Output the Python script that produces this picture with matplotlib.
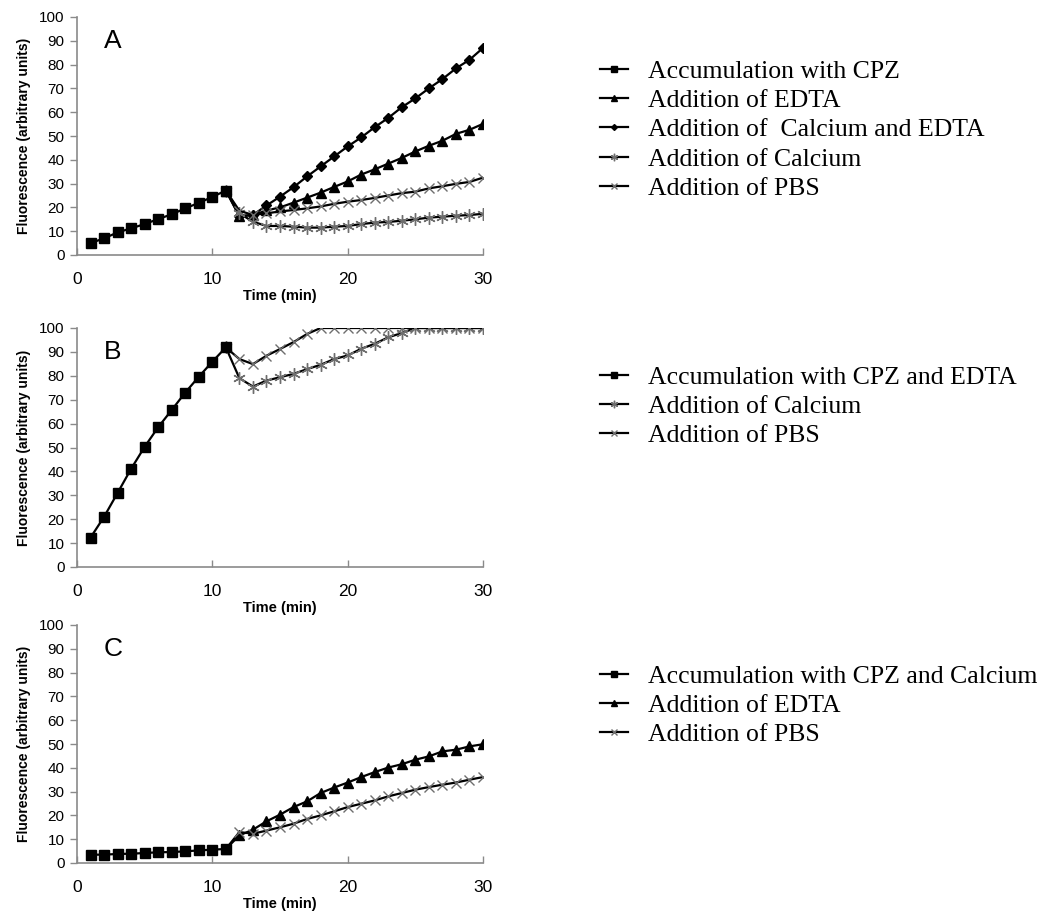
import numpy as np
import matplotlib
matplotlib.use("Agg")
import matplotlib.pyplot as plt

# ---------------- data ----------------
acc_x = list(range(1, 12))
add_x = list(range(11, 31))

# Panel A
a_acc = [5, 7, 9.5, 11.2, 13, 15.1, 17.1, 19.6, 21.9, 24.4, 27.1]
a_edta = [27.1, 16.2, 16.8, 18.7, 20, 22, 24.1, 26.2, 28.6, 30.9, 33.8, 36, 38.4,
          40.8, 43.5, 45.9, 48, 50.9, 52.6, 55.1]
a_ca_edta = [27.1, 16.4, 16.8, 20.8, 24.5, 28.5, 33, 37.2, 41.4, 45.6, 49.4, 53.7,
             57.6, 62.1, 65.8, 70, 73.9, 78.4, 82, 87]
a_ca = [27.1, 17.5, 14, 12.2, 12.2, 11.9, 11.5, 11.5, 11.9, 12.2, 13, 13.6, 13.9,
        14.4, 15, 15.7, 16.1, 16.5, 16.8, 17.3]
a_pbs = [27.1, 18.6, 16.8, 17.5, 18.3, 18.9, 19.6, 20.4, 21.5, 22.4, 23.1, 24, 25,
         26, 26.6, 28, 28.9, 29.9, 30.7, 32.5]

# Panel B
b_acc = [12.3, 21, 31, 41.1, 50.3, 58.5, 65.7, 73, 79.6, 85.9, 91.9]
b_ca = [91.9, 79, 75.5, 78, 79.4, 80.8, 82.8, 84.6, 87, 88.5, 91.3, 93.4, 96.1,
        97.9, 100, 100, 100, 100, 100, 100]
b_pbs = [91.9, 87, 84.9, 88.4, 91.2, 94.1, 97.5, 100, 100, 100, 100, 100, 100,
         100, 100, 100, 100, 100, 100, 100]

# Panel C
c_acc = [3.5, 3.5, 3.8, 3.9, 4.2, 4.5, 4.6, 4.9, 5.3, 5.6, 5.9]
c_edta = [5.9, 11.6, 14, 17.5, 20.3, 23.5, 25.9, 29.4, 31.7, 33.8, 36.1, 38.2,
          40.1, 41.5, 43.4, 44.8, 46.9, 47.6, 49, 49.9]
c_pbs = [5.9, 13, 12.3, 13.6, 15, 16.5, 18.5, 20, 21.7, 23.5, 24.9, 26.3, 28,
         29.4, 30.8, 31.9, 32.9, 33.8, 35, 36.1]

yticks = list(range(0, 101, 10))
xticks = [0, 10, 20, 30]

# ---------------- styles ----------------
GRAY = "#6e6e6e"
SPINE = "#8a8a8a"
ASTER = (6, 2, 0)
styles = {
    "acc": dict(marker="s", ms=7, mfc="black", mec="black"),
    "edta": dict(marker="^", ms=7, mfc="black", mec="black"),
    "caedta": dict(marker="D", ms=5, mfc="black", mec="black"),
    "ca": dict(marker=ASTER, ms=9, mfc=GRAY, mec=GRAY, mew=1.0),
    "pbs": dict(marker="x", ms=7, mfc=GRAY, mec=GRAY, mew=1.0),
}

fig = plt.figure(figsize=(10.4, 9.14), dpi=100)
W, H = 1040, 914

def make_ax(top, bottom):
    left, right = 77, 483
    return fig.add_axes([left / W, 1 - bottom / H, (right - left) / W, (bottom - top) / H])

panels = [
    ("A", make_ax(17, 255),
     [("acc", acc_x, a_acc, "Accumulation with CPZ"),
      ("edta", add_x, a_edta, "Addition of EDTA"),
      ("caedta", add_x, a_ca_edta, "Addition of  Calcium and EDTA"),
      ("ca", add_x, a_ca, "Addition of Calcium"),
      ("pbs", add_x, a_pbs, "Addition of PBS")], 67),
    ("B", make_ax(328, 567),
     [("acc", acc_x, b_acc, "Accumulation with CPZ and EDTA"),
      ("ca", add_x, b_ca, "Addition of Calcium"),
      ("pbs", add_x, b_pbs, "Addition of PBS")], 373),
    ("C", make_ax(625, 863),
     [("acc", acc_x, c_acc, "Accumulation with CPZ and Calcium"),
      ("edta", add_x, c_edta, "Addition of EDTA"),
      ("pbs", add_x, c_pbs, "Addition of PBS")], 672),
]

for letter, ax, series, leg_y in panels:
    handles = {}
    for key, xs, ys, lab in series[1:] + series[:1]:
        st = styles[key]
        ln, = ax.plot(xs, ys, color="black", lw=1.6, linestyle="-",
                      marker=st["marker"], markersize=st["ms"],
                      markerfacecolor=st["mfc"], markeredgecolor=st["mec"],
                      markeredgewidth=st.get("mew", 1.0),
                      zorder=3 if key == "acc" else 2, label=lab)
        handles[lab] = ln
    ax.set_xlim(0, 30)
    ax.set_ylim(0, 100)
    ax.set_xticks(xticks)
    ax.set_yticks(yticks)
    for s in ["top", "right"]:
        ax.spines[s].set_visible(False)
    for s in ["left", "bottom"]:
        ax.spines[s].set_color(SPINE)
        ax.spines[s].set_linewidth(1.2)
    ax.tick_params(axis="y", direction="out", length=5, width=1.0, color=SPINE,
                   labelsize=11, pad=4)
    ax.tick_params(axis="x", direction="in", length=5, width=1.0, color=SPINE,
                   labelsize=12.5, pad=12)
    for t in ax.get_xticklabels() + ax.get_yticklabels():
        t.set_fontfamily("Liberation Sans")
    ax.set_xlabel("Time (min)", fontsize=10.5, fontweight="bold",
                  family="Liberation Sans", labelpad=2)
    ax.set_ylabel("Fluorescence (arbitrary units)", fontsize=10, fontweight="bold",
                  family="Liberation Sans", labelpad=6)
    ax.text(2.0, 90, letter, fontsize=19, family="Liberation Sans",
            ha="left", va="center")
    order = [lab for _, _, _, lab in series]
    fig.legend([handles[l] for l in order], order,
               loc="upper left",
               bbox_to_anchor=(577 / W, 1 - (leg_y - 30) / H),
               frameon=False, handlelength=1.1, handletextpad=0.75,
               labelspacing=0.24, markerscale=0.6,
               prop={"family": "Liberation Serif", "size": 18.5})

fig.savefig("out.png", dpi=100)
